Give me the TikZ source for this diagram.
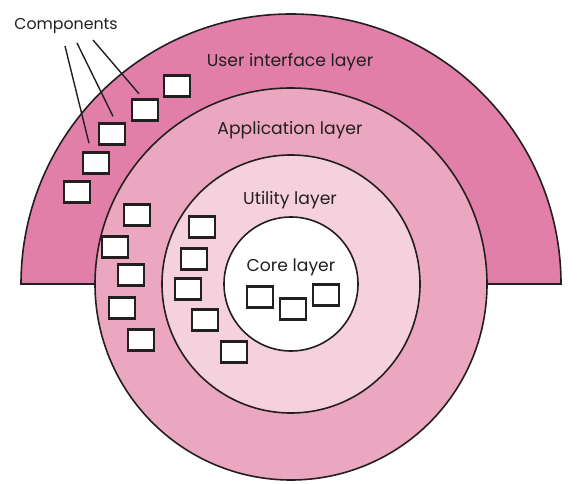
\documentclass[tikz,border=0pt]{standalone}
\usepackage{fontspec}
\setmainfont{Poppins}
\definecolor{uipink}{HTML}{E27FA8}
\definecolor{apppink}{HTML}{EBA7C0}
\definecolor{utilpink}{HTML}{F5D0DD}
\definecolor{ink}{HTML}{231F20}
\tikzset{
  comp/.style={draw=ink, fill=white, line width=2.4pt, minimum width=26.5pt, minimum height=21pt, inner sep=0pt},
  ring/.style={draw=ink, line width=1.6pt},
  lbl/.style={font=\fontsize{17.2}{20}\selectfont, text=ink, anchor=base, inner sep=0pt},
  pointer/.style={draw=ink, line width=1.4pt}
}
\begin{document}
\begin{tikzpicture}[x=1pt,y=-1pt]
\useasboundingbox (0,0) rectangle (578,484);
\coordinate (c) at (291,284);
% user interface layer (upper half)
\filldraw[ring, fill=uipink] (21,284) arc[start angle=180, end angle=360, radius=270] -- cycle;
% application layer
\filldraw[ring, fill=apppink] (c) circle[radius=196];
% utility layer
\filldraw[ring, fill=utilpink] (c) circle[radius=129];
% core layer
\filldraw[ring, fill=white] (c) circle[radius=67];
% labels
\node[lbl] (tui) at (290,67) {User interface layer};
\node[lbl] (tapp) at (290,135) {Application layer};
\node[lbl] (tutil) at (290,204) {Utility layer};
\node[lbl] (tcore) at (291,271) {Core layer};
\node[lbl, font=\fontsize{15.8}{18}\selectfont] (tcomp) at (66,30) {Components};
% UI components
\node[comp] (u1) at (177,86) {};
\node[comp] (u2) at (145,110) {};
\node[comp] (u3) at (112,134) {};
\node[comp] (u4) at (96,163) {};
\node[comp] (u5) at (77,192) {};
% application components
\node[comp] (a1) at (137,215) {};
\node[comp] (a2) at (115,247) {};
\node[comp] (a3) at (131,275) {};
\node[comp] (a4) at (122,308) {};
\node[comp] (a5) at (141,340) {};
% utility components
\node[comp] (t1) at (202,227) {};
\node[comp] (t2) at (194,259) {};
\node[comp] (t3) at (188,289) {};
\node[comp] (t4) at (205,320) {};
\node[comp] (t5) at (234,352) {};
% core components
\node[comp] (k1) at (260,297) {};
\node[comp] (k2) at (293,309) {};
\node[comp] (k3) at (326,295) {};
% pointers
\coordinate (p1) at (65,46);
\coordinate (p2) at (77,43);
\coordinate (p3) at (93,40);
\draw[pointer] (p1) -- ([xshift=-7pt,yshift=8pt]u4.north);
\draw[pointer] (p2) -- ([xshift=1pt,yshift=6pt]u3.north);
\draw[pointer] (p3) -- ([xshift=-6pt,yshift=4.5pt]u2.north);
\end{tikzpicture}
\end{document}
